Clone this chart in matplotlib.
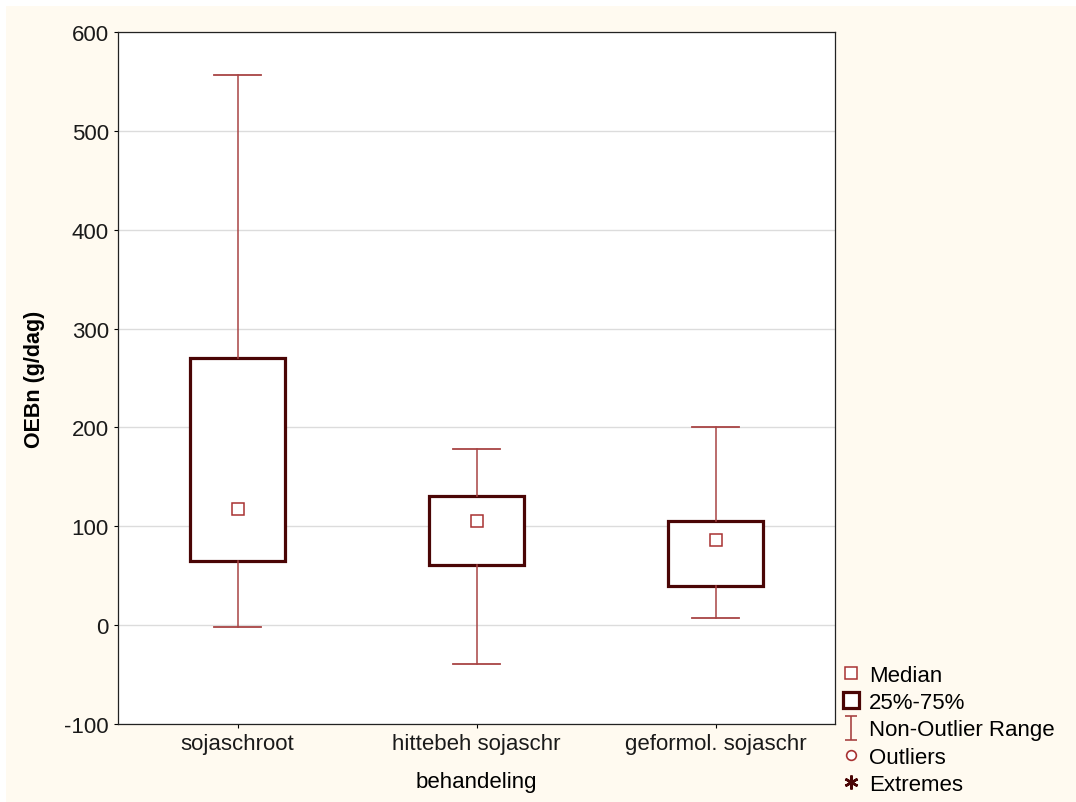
import numpy as np
import matplotlib.pyplot as plt
from matplotlib.lines import Line2D
from matplotlib.patches import Rectangle
from matplotlib.path import Path

plt.rcParams['font.family'] = ['Liberation Sans', 'DejaVu Sans']
plt.rcParams['axes.unicode_minus'] = False

# ----------------------------------------------------------------
# Data
# ----------------------------------------------------------------
categories = ['sojaschroot', 'hittebeh sojaschr', 'geformol. sojaschr']
medians    = [117, 105, 86]
q1         = [65, 61, 40]
q3         = [270, 131, 105]
whis_lo    = [-2, -39, 7]
whis_hi    = [556, 178, 200]
y_ticks    = [-100, 0, 100, 200, 300, 400, 500, 600]

box_col   = '#4a0505'
whisk_col = '#a84444'
med_col   = '#a83232'
cream     = '#fffaf0'

# ----------------------------------------------------------------
# Figure
# ----------------------------------------------------------------
fig = plt.figure(figsize=(10.76, 8.03), dpi=100)
fig.patch.set_facecolor('white')
fig.patches.append(Rectangle((6 / 1076, 0.0), 1 - 6 / 1076, 1 - 7 / 803,
                             transform=fig.transFigure, facecolor=cream,
                             edgecolor='none', zorder=-10))

ax = fig.add_axes([118 / 1076, 78 / 803, 717 / 1076, 692 / 803])
ax.set_facecolor('white')

stats = []
for i, name in enumerate(categories):
    stats.append({'label': name, 'med': medians[i], 'q1': q1[i],
                  'q3': q3[i], 'whislo': whis_lo[i], 'whishi': whis_hi[i],
                  'fliers': []})

pos = np.arange(len(categories))
ax.bxp(stats, positions=pos, widths=0.4, showfliers=False,
       patch_artist=True,
       boxprops=dict(facecolor='white', edgecolor=box_col, linewidth=2.3),
       whiskerprops=dict(color=whisk_col, linewidth=1.1),
       capprops=dict(color=whisk_col, linewidth=1.3),
       capwidths=0.2,
       medianprops=dict(visible=False), zorder=3)

ax.plot(pos, medians, linestyle='none', marker='s', markersize=8,
        markerfacecolor='white', markeredgecolor=med_col,
        markeredgewidth=1.1, zorder=4)

ax.set_xlim(-0.5, len(categories) - 0.5)
ax.set_ylim(-100, 600)
ax.set_yticks(y_ticks)
ax.set_xticks(pos)
ax.set_xticklabels(categories)
ax.yaxis.grid(True, color='#dcdcdc', linewidth=1)
ax.set_axisbelow(True)
ax.tick_params(axis='both', labelsize=16, length=3, width=0.8,
               colors='black', labelcolor='#1a1a1a')
for s in ax.spines.values():
    s.set_linewidth(0.9)
    s.set_color('#222222')

ax.set_ylabel('OEBn (g/dag)', fontsize=15.5, fontweight='bold', labelpad=14)
ax.set_xlabel('behandeling', fontsize=16, labelpad=12)

# ----------------------------------------------------------------
# Legend
# ----------------------------------------------------------------
ibeam = Path([(-0.5, -1), (0.5, -1), (0, -1), (0, 1), (-0.5, 1), (0.5, 1)],
             [Path.MOVETO, Path.LINETO, Path.MOVETO, Path.LINETO,
              Path.MOVETO, Path.LINETO])
handles = [
    Line2D([], [], linestyle='none', marker='s', markersize=8,
           markerfacecolor='white', markeredgecolor=med_col,
           markeredgewidth=1.1),
    Line2D([], [], linestyle='none', marker='s', markersize=12,
           markerfacecolor='white', markeredgecolor=box_col,
           markeredgewidth=2.3),
    Line2D([], [], linestyle='none', marker=ibeam, markersize=17,
           markerfacecolor='none', markeredgecolor=whisk_col,
           markeredgewidth=1.2),
    Line2D([], [], linestyle='none', marker='o', markersize=7,
           markerfacecolor='white', markeredgecolor=med_col,
           markeredgewidth=1.2),
    Line2D([], [], linestyle='none', marker=(6, 2, 0), markersize=10,
           markeredgecolor=box_col, markeredgewidth=1.8),
]
labels = ['Median', '25%-75%', 'Non-Outlier Range', 'Outliers', 'Extremes']
fig.legend(handles, labels, loc='upper left',
           bbox_to_anchor=(841 / 1076, 1 - 666 / 803), frameon=False,
           fontsize=16, handlelength=0.9, handletextpad=0.35,
           labelspacing=0.28, borderpad=0, borderaxespad=0)

plt.savefig('out.png', dpi=100, facecolor=fig.get_facecolor())
